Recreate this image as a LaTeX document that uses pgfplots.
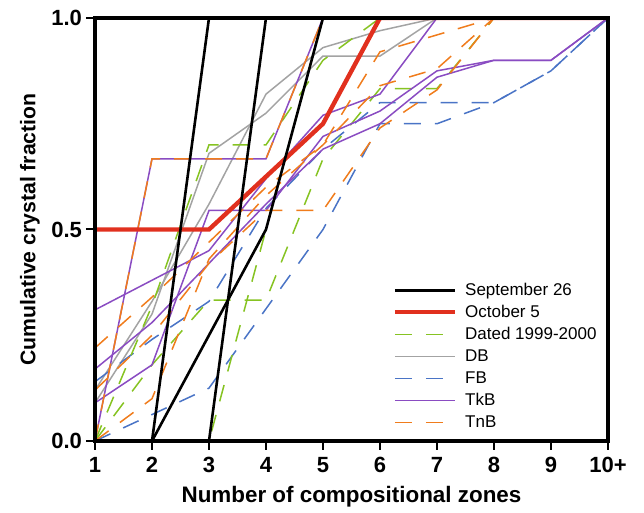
\documentclass[border=0pt]{standalone}
\usepackage{fontspec}
\setmainfont{Liberation Sans}
\usepackage{pgfplots}
\pgfplotsset{compat=1.18}

\definecolor{cred}{HTML}{E1301E}
\definecolor{cgreen}{HTML}{86C322}
\definecolor{cgrey}{HTML}{A3A3A3}
\definecolor{cblue}{HTML}{4A74C6}
\definecolor{cpurple}{HTML}{8A4CC2}
\definecolor{corange}{HTML}{F07C1C}

\tikzset{
  sep/.style={color=black, line width=1.3pt},
  oct/.style={color=cred, line width=2.2pt},
  dated/.style={color=cgreen, line width=0.75pt, dash pattern=on 8.5pt off 7pt},
  db/.style={color=cgrey, line width=0.75pt},
  fb/.style={color=cblue, line width=0.75pt, dash pattern=on 8.5pt off 7pt},
  tkb/.style={color=cpurple, line width=0.75pt},
  tnb/.style={color=corange, line width=0.75pt, dash pattern=on 8.5pt off 7pt},
}

\begin{document}
\begin{tikzpicture}
\begin{axis}[
  width=256.5pt, height=211.5pt, scale only axis,
  xmin=1, xmax=10, ymin=0, ymax=1,
  axis on top,
  axis line style={line width=2pt},
  tick pos=left, tick align=outside,
  major tick length=4.5pt,
  tick style={black, line width=1pt},
  xtick={1,...,10}, xticklabels={1,2,3,4,5,6,7,8,9,10+},
  ytick={0,0.5,1}, yticklabels={0.0,0.5,1.0},
  /pgf/number format/assume math mode=true,
  ticklabel style={font=\bfseries\fontsize{11}{13}\selectfont},
  yticklabel style={xshift=1.5pt},
  xlabel={Number of compositional zones},
  ylabel={Cumulative crystal fraction},
  xlabel style={font=\bfseries\fontsize{11.2}{13}\selectfont,
    at={(axis description cs:0.5,-0.1324)}, anchor=center},
  ylabel style={font=\bfseries\fontsize{10.6}{13}\selectfont,
    at={(axis description cs:-0.1267,0.5)}, anchor=center},
  no markers,
  legend image code/.code={\draw[#1] (0pt,0pt) -- (30pt,0pt);},
  legend cell align=left,
  legend style={at={(0.568,0.388)}, anchor=north west, draw=none, fill=none,
    font=\fontsize{8.5}{10}\selectfont,
    nodes={inner sep=0pt, text height=7pt, text depth=2pt},
    row sep=2pt,
    /tikz/every odd column/.append style={column sep=4pt}},
]
\addlegendimage{sep}\addlegendentry{September 26}
\addlegendimage{oct}\addlegendentry{October 5}
\addlegendimage{dated}\addlegendentry{Dated 1999-2000}
\addlegendimage{db}\addlegendentry{DB}
\addlegendimage{fb}\addlegendentry{FB}
\addlegendimage{tkb}\addlegendentry{TkB}
\addlegendimage{tnb}\addlegendentry{TnB}

% DB
\addplot[db, forget plot] coordinates {(1,0.12) (2,0.33) (3,0.56) (4,0.82) (5,0.93) (6,0.97) (7,1) (10,1)};
\addplot[db, forget plot] coordinates {(1,0.09) (2,0.30) (3,0.68) (4,0.775) (5,0.91) (6,0.91) (7,1) (10,1)};

% FB
\addplot[fb, forget plot] coordinates {(1,0.14) (2,0.24) (3,0.33) (4,0.55) (5,0.69) (6,0.8) (7,0.8) (8,0.8) (9,0.875) (10,1)};
\addplot[fb, forget plot] coordinates {(1,0) (2,0.0625) (3,0.125) (4,0.3125) (5,0.5) (6,0.75) (7,0.75) (8,0.8) (9,0.875) (10,1)};

% Dated 1999-2000
\addplot[dated, forget plot] coordinates {(1,0) (2,0.32) (3,0.70) (4,0.70) (5,0.9) (6,1) (10,1)};
\addplot[dated, forget plot] coordinates {(1,0) (3,0) (4,0.5) (5,1) (10,1)};
\addplot[dated, forget plot] coordinates {(1,0) (2,0.18) (3,0.333) (4,0.333) (5,0.667) (6,0.833) (7,0.833) (8,1) (10,1)};

% TkB
\addplot[tkb, forget plot] coordinates {(1,0) (2,0.667) (4,0.667) (5,1) (10,1)};
\addplot[tkb, forget plot] coordinates {(1,0.09) (2,0.18) (3,0.545) (4,0.545) (5,0.72) (6,0.78) (7,0.875) (8,0.9) (9,0.9) (10,1)};
\addplot[tkb, forget plot] coordinates {(1,0.31) (2,0.38) (3,0.45) (4,0.62) (5,0.77) (6,0.82) (7,1) (10,1)};
\addplot[tkb, forget plot] coordinates {(1,0.17) (2,0.28) (3,0.42) (4,0.56) (5,0.69) (6,0.75) (7,0.86) (8,0.9) (9,0.9) (10,1)};

% TnB
\addplot[tnb, forget plot] coordinates {(1,0) (2,0.667) (4,0.667) (5,1) (10,1)};
\addplot[tnb, forget plot] coordinates {(1,0.12) (2,0.25) (3,0.42) (4,0.545) (5,0.545) (6,0.74) (7,0.83) (8,1) (10,1)};
\addplot[tnb, forget plot] coordinates {(1,0.22) (2,0.34) (3,0.47) (4,0.6) (5,0.7) (6,0.92) (7,0.96) (8,1) (10,1)};
\addplot[tnb, forget plot] coordinates {(1,0) (2,0.1) (3,0.43) (4,0.58) (5,0.7) (6,0.84) (7,0.88) (8,1) (10,1)};

% October 5
\addplot[oct, forget plot] coordinates {(1,0.5) (3,0.5) (5,0.75) (6,1) (10,1)};

% September 26
\addplot[sep, forget plot] coordinates {(2,0) (3,1)};
\addplot[sep, forget plot] coordinates {(3,0) (4,1)};
\addplot[sep, forget plot] coordinates {(2,0) (3,0.25) (4,0.5) (5,1)};
\end{axis}
\pgfresetboundingbox
\path (current axis.south west) ++(-47.5pt,-36pt) rectangle ++(322pt,256.5pt);
\end{tikzpicture}
\end{document}
